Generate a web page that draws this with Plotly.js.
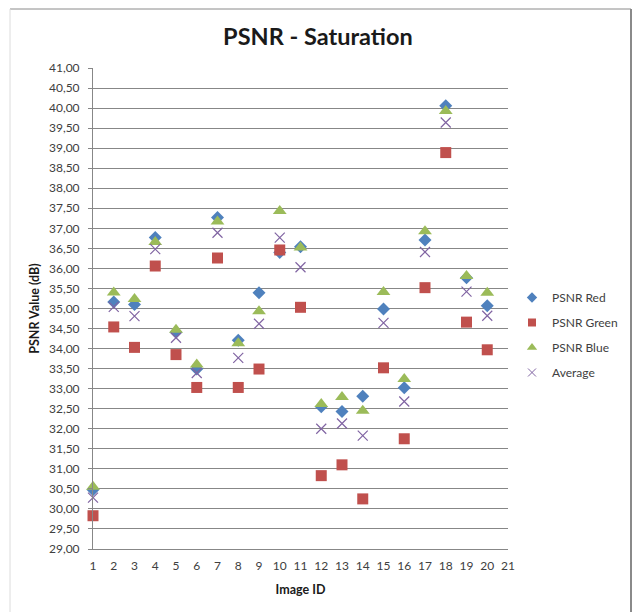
<!DOCTYPE html>
<html>
<head>
<meta charset="utf-8">
<script src="https://cdn.plot.ly/plotly-3.0.1.min.js"></script>
<style>
  html, body { margin: 0; padding: 0; background: #ffffff; }
  #chart { width: 632px; height: 612px; }
</style>
</head>
<body>
<div id="chart"></div>
<script>
// ---- Data ----
const imageIds = [1, 2, 3, 4, 5, 6, 7, 8, 9, 10, 11, 12, 13, 14, 15, 16, 17, 18, 19, 20];
const psnrRed   = [30.48, 35.16, 35.10, 36.77, 34.41, 33.49, 37.27, 34.21, 35.39, 36.40, 36.54, 32.55, 32.43, 32.81, 34.99, 33.02, 36.71, 40.06, 35.77, 35.07];
const psnrGreen = [29.83, 34.54, 34.03, 36.06, 33.85, 33.03, 36.26, 33.03, 33.49, 36.46, 35.03, 30.83, 31.10, 30.25, 33.52, 31.75, 35.52, 38.89, 34.66, 33.97];
const psnrBlue  = [30.55, 35.40, 35.24, 36.66, 34.47, 33.60, 37.17, 34.13, 34.93, 37.43, 36.52, 32.62, 32.79, 32.45, 35.41, 33.24, 36.93, 39.93, 35.81, 35.39];
const psnrAvg   = [30.28, 35.04, 34.81, 36.48, 34.27, 33.39, 36.89, 33.77, 34.62, 36.77, 36.03, 32.00, 32.13, 31.83, 34.64, 32.68, 36.41, 39.64, 35.42, 34.82];
const seriesNames = ["PSNR Red", "PSNR Green", "PSNR Blue", "Average"];
const xTickVals = [1, 2, 3, 4, 5, 6, 7, 8, 9, 10, 11, 12, 13, 14, 15, 16, 17, 18, 19, 20, 21];

const FONT = "Lato, 'Liberation Sans', sans-serif";

const styles = [
  { symbol: "diamond", size: 10, color: "#4F81BD" },
  { symbol: "square", size: 11, color: "#C0504D" },
  { symbol: "triangle-up", size: 12, color: "#9BBB59" },
  { symbol: "x-thin", size: 10, color: "#8064A2", line: { color: "#8064A2", width: 1.2 } }
];
const values = [psnrRed, psnrGreen, psnrBlue, psnrAvg];

const traces = [];
values.forEach((vals, i) => {
  traces.push({
    type: "scatter", mode: "markers", cliponaxis: false, showlegend: false,
    x: imageIds, y: vals, name: seriesNames[i], marker: styles[i]
  });
});
// legend entries with Excel-like small symbols
values.forEach((vals, i) => {
  const m = Object.assign({}, styles[i]);
  m.size = Math.round(styles[i].size * 0.75);
  if (m.line) m.line = { color: m.line.color, width: 1 };
  traces.push({
    type: "scatter", mode: "markers", x: [null], y: [null],
    name: seriesNames[i], legendgroup: "g" + i, marker: m, hoverinfo: "skip"
  });
});

// Paper coordinates of the outer chart border (plot area: x 93..508, y 68..549)
const px = v => (v - 93) / 415;
const py = v => (549 - v) / 481;

const layout = {
  width: 632, height: 612,
  margin: { l: 93, r: 124, t: 68, b: 63, autoexpand: false },
  paper_bgcolor: "#ffffff", plot_bgcolor: "#ffffff",
  separators: ", ",
  font: { family: FONT, size: 12, color: "#404040" },
  showlegend: true,
  title: {
    text: "<b>PSNR - Saturation</b>",
    font: { family: FONT, size: 23.5, color: "#1a1a1a" },
    x: 0.503, xanchor: "center", xref: "container",
    y: (612 - 37) / 612, yanchor: "middle", yref: "container"
  },
  xaxis: {
    range: [1, 21], tickmode: "array", tickvals: xTickVals,
    showgrid: false, zeroline: false,
    showline: true, linecolor: "#878787", linewidth: 1,
    ticks: "", ticklabelstandoff: 6,
    tickfont: { family: FONT, size: 12, color: "#404040" },
    title: { text: "<b>Image ID</b>", font: { family: FONT, size: 12.5, color: "#1a1a1a" }, standoff: 12 }
  },
  yaxis: {
    range: [29, 41], dtick: 0.5, tick0: 29, tickformat: ".2f",
    showgrid: true, gridcolor: "#878787", gridwidth: 1, zeroline: false,
    showline: true, linecolor: "#878787", linewidth: 1,
    ticks: "outside", ticklen: 4, tickcolor: "#878787", ticklabelstandoff: 6,
    tickfont: { family: FONT, size: 12, color: "#404040" },
    title: { text: "<b>PSNR Value (dB)</b>", font: { family: FONT, size: 12.5, color: "#1a1a1a" }, standoff: 6 }
  },
  legend: {
    x: px(512), xanchor: "left", y: py(283), yanchor: "top",
    font: { family: FONT, size: 12, color: "#404040" },
    bgcolor: "rgba(0,0,0,0)", borderwidth: 0,
    traceorder: "grouped", tracegroupgap: 6, itemwidth: 30
  },
  shapes: [
    { type: "line", xref: "paper", yref: "paper", x0: px(10), x1: px(631), y0: py(9), y1: py(9),
      line: { color: "#8a8a8a", width: 1 } },
    { type: "line", xref: "paper", yref: "paper", x0: px(631), x1: px(631), y0: py(9), y1: py(615),
      line: { color: "#8a8a8a", width: 2 } },
    { type: "line", xref: "paper", yref: "paper", x0: px(10), x1: px(10), y0: py(9), y1: py(615),
      line: { color: "#dcdcdc", width: 1 } }
  ]
};

Plotly.newPlot("chart", traces, layout, { displayModeBar: false, staticPlot: true });
</script>
</body>
</html>
